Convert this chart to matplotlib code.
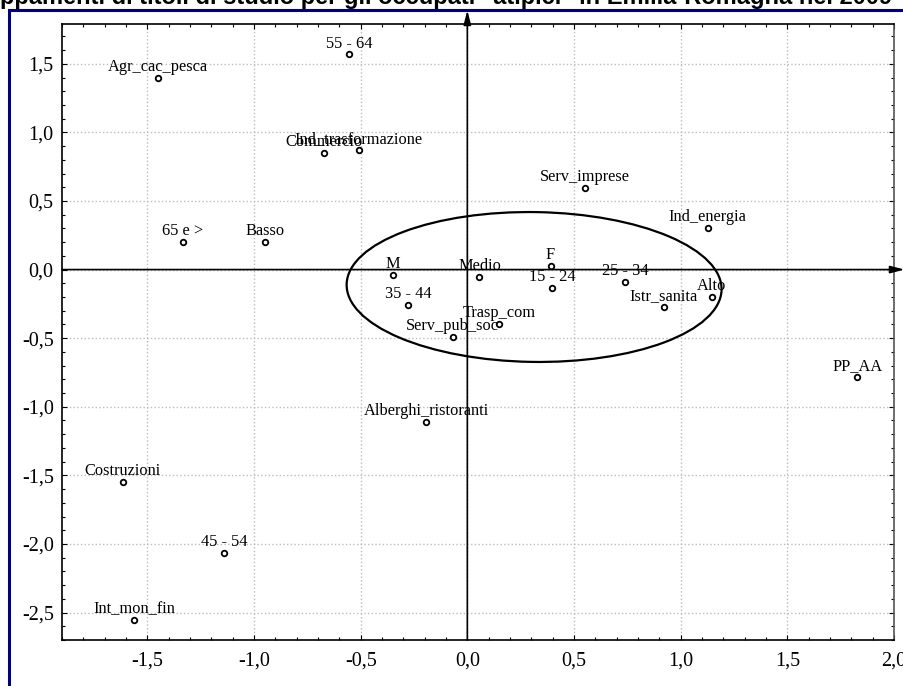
import matplotlib.pyplot as plt
from matplotlib.patches import Ellipse, Rectangle
from matplotlib.ticker import MultipleLocator, FuncFormatter

# punti dell'analisi delle corrispondenze
etichette = ['55 - 64', 'Agr_cac_pesca', 'Commercio', 'Ind_trasformazione', '65 e >', 'Basso',
             'Serv_imprese', 'Ind_energia', 'F', '15 - 24', 'Medio', '25 - 34', 'Istr_sanita',
             'Alto', 'Trasp_com', 'Serv_pub_soc', 'M', '35 - 44', 'PP_AA',
             'Alberghi_ristoranti', 'Costruzioni', '45 - 54', 'Int_mon_fin']
dim1 = [-0.553, -1.451, -0.670, -0.510, -1.335, -0.950,
        0.550, 1.127, 0.390, 0.399, 0.057, 0.740, 0.920,
        1.145, 0.149, -0.068, -0.350, -0.277, 1.828,
        -0.193, -1.616, -1.141, -1.563]
dim2 = [1.568, 1.398, 0.849, 0.869, 0.199, 0.199,
        0.597, 0.303, 0.024, -0.134, -0.054, -0.090, -0.272,
        -0.200, -0.396, -0.491, -0.042, -0.260, -0.782,
        -1.112, -1.551, -2.068, -2.554]

titolo = 'ppamenti di titoli di studio per gli occupati "atipici" in Emilia-Romagna nel 2009'

# ellisse del gruppo centrale (centro, larghezza, altezza, angolo)
ell_centro = (0.313, -0.127)
ell_w, ell_h, ell_ang = 1.758, 1.092, -1.6

xmin, xmax = -1.9, 2.0
ymin, ymax = -2.7, 1.79

fig = plt.figure(figsize=(9.04, 6.86), dpi=100)
ax = fig.add_axes([62/904, 46/686, 832/904, 616/686])

# cornice blu e titolo tagliato
fig.patches.append(Rectangle((9/904, -0.1), 1.2, 1.1 - 10/686, transform=fig.transFigure,
                             fill=False, edgecolor='#000080', linewidth=2.2))
fig.text(0.0, 1 - 4/686, titolo, ha='left', va='baseline', fontsize=17,
         fontweight='bold', family='Liberation Sans')

ax.set_xlim(xmin, xmax)
ax.set_ylim(ymin, ymax)

ax.xaxis.set_major_locator(MultipleLocator(0.5))
ax.xaxis.set_minor_locator(MultipleLocator(0.1))
ax.yaxis.set_major_locator(MultipleLocator(0.5))
ax.yaxis.set_minor_locator(MultipleLocator(0.1))
virgola = FuncFormatter(lambda v, p: f'{v:.1f}'.replace('.', ',').replace('-0,0', '0,0'))
ax.xaxis.set_major_formatter(virgola)
ax.yaxis.set_major_formatter(virgola)
ax.tick_params(which='both', direction='in', top=True, right=True, color='black')
ax.tick_params(which='major', length=3.5, width=0.8)
ax.tick_params(which='minor', length=2.2, width=0.8)
ax.tick_params(axis='x', pad=8)
ax.tick_params(axis='y', pad=6)
for lab in ax.get_xticklabels() + ax.get_yticklabels():
    lab.set_family('Liberation Serif')
    lab.set_fontsize(14.5)

ax.grid(True, which='major', linestyle=':', color='#bdbdbd', linewidth=1)
for s in ax.spines.values():
    s.set_linewidth(1.2)
ax.spines['right'].set_color('#555555')

# assi con frecce
freccia = dict(arrowstyle='-|>,head_length=0.85,head_width=0.22', color='black',
               lw=1.2, mutation_scale=10, shrinkA=0, shrinkB=0)
ax.annotate('', xy=(xmax + 0.05, 0), xytext=(xmin, 0), arrowprops=freccia,
            annotation_clip=False)
ax.annotate('', xy=(0, ymax + 0.10), xytext=(0, ymin), arrowprops=freccia,
            annotation_clip=False)

ax.add_patch(Ellipse(ell_centro, ell_w, ell_h, angle=ell_ang, fill=False,
                     edgecolor='black', linewidth=1.6, zorder=3))

ax.plot(dim1, dim2, linestyle='none', marker='o', ms=4.0, mfc='white', mec='black',
        mew=1.3, zorder=4)
for nome, x, y in zip(etichette, dim1, dim2):
    ax.annotate(nome, (x, y), xytext=(0, 5), textcoords='offset points',
                ha='center', va='baseline', fontsize=11.8, family='Liberation Serif',
                zorder=5)

plt.savefig('out.png', dpi=100)
